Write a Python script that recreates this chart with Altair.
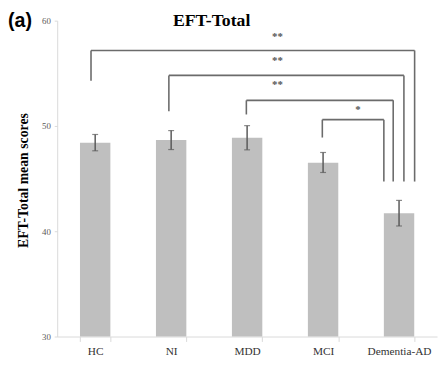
import altair as alt
import pandas as pd

# ---- data ----
categories = ["HC", "NI", "MDD", "MCI", "Dementia-AD"]
means = [48.41, 48.66, 48.88, 46.51, 41.71]
err_low = [47.64, 47.76, 47.73, 45.58, 40.50]
err_high = [49.19, 49.56, 50.03, 47.48, 42.93]

# significance brackets (x in category-slot units, 0..5)
br_left_x = [0.445, 1.47, 2.49, 3.49]
br_right_x = [4.705, 4.564, 4.423, 4.30]
br_top = [57.17, 54.8, 52.43, 50.6]
br_left_end = [54.3, 51.4, 51.09, 48.9]
br_right_end = [44.72, 44.72, 44.72, 44.72]
star_labels = ["**", "**", "**", "*"]
star_x = [2.90, 2.90, 2.90, 3.96]
star_y = [58.48, 56.17, 53.93, 51.5]

chart_title = "EFT-Total"
panel_label = "(a)"
y_title = "EFT-Total  mean  scores"
y_ticks = [30, 40, 50, 60]
y_min = 30

# ---- tables ----
bars_df = pd.DataFrame({"cat": categories, "mean": means, "lo": err_low, "hi": err_high})
br_df = pd.DataFrame({
    "lx": br_left_x, "rx": br_right_x, "top": br_top,
    "lend": br_left_end, "rend": br_right_end,
})
star_df = pd.DataFrame({"x": star_x, "y": star_y, "s": star_labels})
title_df = pd.DataFrame({"t": [chart_title]})
label_df = pd.DataFrame({"t": [panel_label]})

serif = "Liberation Serif"
line_col = "#6b6b6b"

yscale = alt.Scale(domain=[30, 60], nice=False, zero=False)
xband = alt.X(
    "cat:N", sort=categories,
    scale=alt.Scale(paddingInner=0.6, paddingOuter=0.3),
    axis=alt.Axis(
        title=None, labelAngle=0, tickBand="extent", domainColor="#d9d9d9",
        tickColor="#d9d9d9", tickSize=5, labelFont=serif, labelFontSize=11.5,
        labelColor="#333333", labelPadding=4,
    ),
)
yaxis = alt.Axis(
    values=y_ticks, grid=False, labelFont=serif, labelFontSize=9,
    labelColor="#595959", domainColor="#d9d9d9", tickColor="#d9d9d9",
    tickSize=3, labelPadding=4, title=y_title, titleFont=serif,
    titleFontWeight="bold", titleFontSize=14, titleColor="black",
    titleX=-27, titleY=162,
)

bars = alt.Chart(bars_df).mark_bar(color="#bfbfbf").encode(
    x=xband,
    y=alt.Y("mean:Q", scale=yscale, axis=yaxis),
    y2=alt.Y2(datum=y_min),
)
err = alt.Chart(bars_df).mark_rule(color="#595959", strokeWidth=1.5).encode(
    x=alt.X("cat:N", sort=categories),
    y=alt.Y("lo:Q", scale=yscale),
    y2="hi:Q",
)
cap_lo = alt.Chart(bars_df).mark_tick(color="#595959", size=6, thickness=1.2).encode(
    x=alt.X("cat:N", sort=categories),
    y=alt.Y("lo:Q", scale=yscale),
)
cap_hi = alt.Chart(bars_df).mark_tick(color="#595959", size=6, thickness=1.2).encode(
    x=alt.X("cat:N", sort=categories),
    y=alt.Y("hi:Q", scale=yscale),
)

xq = alt.Scale(domain=[0, 5], nice=False, zero=False)
h_lines = alt.Chart(br_df).mark_rule(color=line_col, strokeWidth=1.6).encode(
    x=alt.X("lx:Q", scale=xq, axis=None),
    x2="rx:Q",
    y=alt.Y("top:Q", scale=yscale),
)
l_legs = alt.Chart(br_df).mark_rule(color=line_col, strokeWidth=1.6).encode(
    x=alt.X("lx:Q", scale=xq, axis=None),
    y=alt.Y("top:Q", scale=yscale),
    y2="lend:Q",
)
r_legs = alt.Chart(br_df).mark_rule(color=line_col, strokeWidth=1.6).encode(
    x=alt.X("rx:Q", scale=xq, axis=None),
    y=alt.Y("top:Q", scale=yscale),
    y2="rend:Q",
)
stars = alt.Chart(star_df).mark_text(
    font=serif, fontSize=11, fontWeight="bold", color="#555555", baseline="middle"
).encode(
    x=alt.X("x:Q", scale=xq, axis=None),
    y=alt.Y("y:Q", scale=yscale),
    text="s:N",
)

title_txt = alt.Chart(title_df).mark_text(
    font=serif, fontSize=18, fontWeight="bold", color="black",
    align="center", baseline="alphabetic",
).encode(x=alt.value(157), y=alt.value(5), text="t:N")

panel_txt = alt.Chart(label_df).mark_text(
    font="Liberation Sans", fontSize=20, fontWeight="bold", color="black",
    align="left", baseline="alphabetic",
).encode(x=alt.value(-50), y=alt.value(6), text="t:N")

band_layer = alt.layer(bars, err, cap_lo, cap_hi)
quant_layer = alt.layer(h_lines, l_legs, r_legs, stars)

chart = alt.layer(band_layer, quant_layer, title_txt, panel_txt).resolve_scale(
    x="independent"
).properties(
    width=386, height=321,
    autosize=alt.AutoSizeParams(type="none"),
    padding={"left": 50, "top": 10, "right": 2, "bottom": 22},
).configure_view(stroke=None)

chart.save("out.html", embed_options={"renderer": "svg", "actions": False})
